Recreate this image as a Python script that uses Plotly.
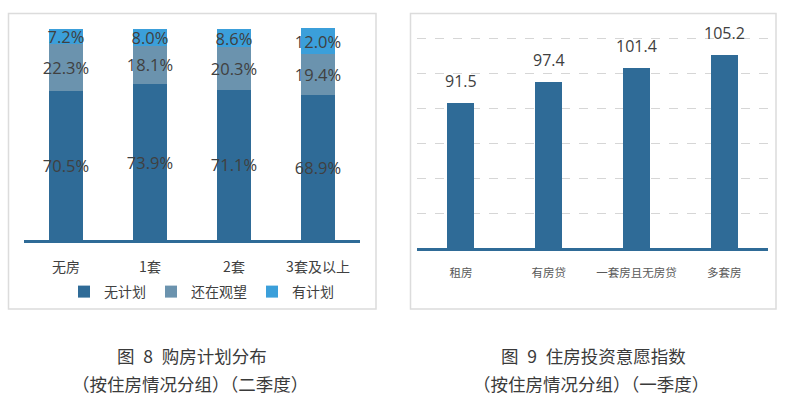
import plotly.graph_objects as go

# ---- Data: Figure 8 (purchase plans by housing situation, Q2) ----
cats_left = ["无房", "1套", "2套", "3套及以上"]
no_plan = [70.5, 73.9, 71.1, 68.9]
wait_see = [22.3, 18.1, 20.3, 19.4]
has_plan = [7.2, 8.0, 8.6, 12.0]
series_names = ["无计划", "还在观望", "有计划"]

# ---- Data: Figure 9 (housing investment willingness index, Q1) ----
cats_right = ["租房", "有房贷", "一套房且无房贷", "多套房"]
index_vals = [91.5, 97.4, 101.4, 105.2]

W, H = 800, 398
C_DARK = "#2f6b97"
C_MID = "#6b93ae"
C_LIGHT = "#3b9fda"
TXT = "#404040"
LAT = "Open Sans, Noto Sans CJK SC, sans-serif"
CJK = "Noto Sans CJK SC, sans-serif"

fig = go.Figure()

for name, vals, col in zip(series_names, [no_plan, wait_see, has_plan], [C_DARK, C_MID, C_LIGHT]):
    fig.add_trace(go.Bar(
        x=cats_left, y=vals, name=name, marker=dict(color=col, line=dict(width=0)),
        text=[f"{v:.1f}%" for v in vals], textposition="inside", insidetextanchor="middle",
        constraintext="none", textangle=0, cliponaxis=False,
        insidetextfont=dict(family=LAT, size=16.5, color=TXT),
        xaxis="x", yaxis="y", hoverinfo="skip",
    ))

fig.add_trace(go.Bar(
    x=cats_right, y=index_vals, name="指数", showlegend=False,
    marker=dict(color=C_DARK, line=dict(width=0)),
    xaxis="x2", yaxis="y2", hoverinfo="skip",
))

annotations = []
for c, v in zip(cats_right, index_vals):
    annotations.append(dict(
        x=c, y=v, xref="x2", yref="y2", text=f"{v:.1f}", showarrow=False,
        yanchor="bottom", yshift=9, font=dict(family=LAT, size=16, color=TXT),
    ))

def py(px):
    return 1 - px / H

def pxx(px):
    return px / W

captions = [
    (192, 355, "图\u20028\u2002购房计划分布"),
    (190, 383, "（按住房情况分组）（二季度）"),
    (593, 355, "图\u20029\u2002住房投资意愿指数"),
    (591, 383, "（按住房情况分组）（一季度）"),
]
for x, y, t in captions:
    annotations.append(dict(
        x=pxx(x), y=py(y), xref="paper", yref="paper", text=t, showarrow=False,
        xanchor="center", yanchor="middle", font=dict(family=CJK, size=17.5, color="#3a3a3a"),
    ))

shapes = [
    dict(type="rect", xref="paper", yref="paper", x0=pxx(8.5), x1=pxx(376), y0=py(309), y1=py(13.5),
         line=dict(color="#dcdcdc", width=1.5), layer="below"),
    dict(type="rect", xref="paper", yref="paper", x0=pxx(410.5), x1=pxx(776), y0=py(309), y1=py(13.5),
         line=dict(color="#dcdcdc", width=1.5), layer="below"),
]

fig.update_layout(
    width=W, height=H, margin=dict(l=0, r=0, t=0, b=0),
    paper_bgcolor="white", plot_bgcolor="rgba(0,0,0,0)",
    barmode="stack", bargap=0.595,
    showlegend=True,
    legend=dict(orientation="h", x=pxx(64), xanchor="left", y=py(292), yanchor="middle",
                font=dict(family=CJK, size=14, color=TXT), traceorder="normal",
                itemwidth=30, bgcolor="rgba(0,0,0,0)"),
    xaxis=dict(domain=[pxx(24), pxx(360)], anchor="y", showline=True, linecolor=C_DARK, linewidth=2.5,
               ticks="", showgrid=False, zeroline=False, ticklabelstandoff=12,
               tickfont=dict(family=CJK, size=14, color=TXT), fixedrange=True),
    yaxis=dict(domain=[py(240), py(18.45)], anchor="x", range=[0, 105], visible=False, fixedrange=True),
    xaxis2=dict(domain=[pxx(417), pxx(768)], anchor="y2", showline=True, linecolor=C_DARK, linewidth=2.5,
                ticks="", showgrid=False, zeroline=False, ticklabelstandoff=12,
                tickfont=dict(family=CJK, size=11.5, color="#595959"), fixedrange=True),
    yaxis2=dict(domain=[py(248), py(36.25)], anchor="x2", range=[50, 110.5], dtick=10, tick0=50,
                showgrid=True, gridcolor="#d6d6d6", griddash="dash", gridwidth=1,
                showticklabels=False, zeroline=False, showline=False, ticks="", fixedrange=True),
    annotations=annotations, shapes=shapes,
)
fig.update_traces(selector=dict(xaxis="x2"), width=0.31)

fig.write_html("out.html")
